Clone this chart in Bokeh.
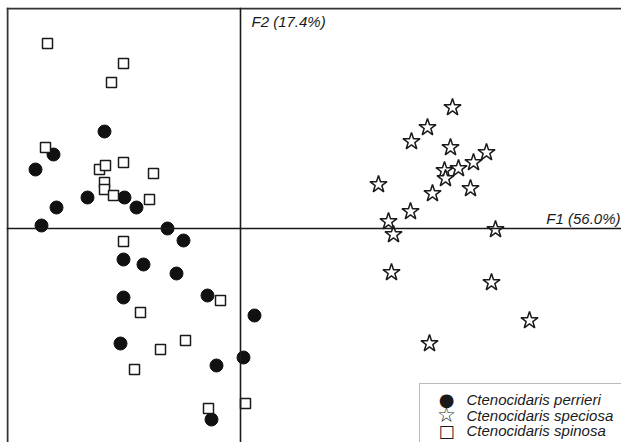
from bokeh.plotting import figure
from bokeh.models import Range1d, Span, Label, BoxAnnotation
from bokeh.embed import file_html
from bokeh.resources import INLINE

# Factor scores (F1 = horizontal, F2 = vertical)
perrieri_f1 = [-1.36, -1.87, -2.05, -1.53, -1.16, -1.04, -1.84, -1.99, -0.73, -0.57,
               -1.17, -0.97, -0.64, -1.17, -0.33, 0.14, -1.20, 0.03, -0.24, -0.29]
perrieri_f2 = [0.97, 0.74, 0.59, 0.31, 0.31, 0.21, 0.21, 0.03, 0.00, -0.12,
               -0.31, -0.36, -0.45, -0.69, -0.67, -0.87, -1.15, -1.29, -1.37, -1.91]

speciosa_f1 = [2.12, 1.87, 1.71, 2.10, 2.46, 2.33, 2.18, 2.04, 2.05, 2.30,
               1.38, 1.92, 1.70, 1.48, 1.53, 2.55, 1.51, 2.51, 2.89, 1.89]
speciosa_f2 = [1.21, 1.01, 0.87, 0.81, 0.76, 0.66, 0.60, 0.58, 0.50, 0.40,
               0.44, 0.35, 0.17, 0.07, -0.06, -0.01, -0.44, -0.54, -0.92, -1.15]

spinosa_f1 = [-1.93, -1.17, -1.29, -1.95, -1.41, -1.35, -1.17, -0.87, -1.36, -1.36,
              -1.27, -0.91, -1.17, -0.20, -1.00, -0.55, -0.80, -1.06, -0.32, 0.05]
spinosa_f2 = [1.85, 1.65, 1.46, 0.81, 0.59, 0.63, 0.66, 0.55, 0.46, 0.39,
              0.33, 0.29, -0.13, -0.72, -0.84, -1.12, -1.21, -1.41, -1.80, -1.75]

species = ["Ctenocidaris perrieri", "Ctenocidaris speciosa", "Ctenocidaris spinosa"]
legend_keys = ["\u25CF", "\u2606", "\u25A1"]
axis_labels = ["F1 (56.0%)", "F2 (17.4%)"]

PX = 100.0  # pixels per unit on both factors
x_start, x_end = -2.34, 3.81
y_start, y_end = -2.14, 2.21

FONT = "Liberation Sans"
INK = "#1a1a1a"

p = figure(width=621, height=442, output_backend="svg", toolbar_location=None,
           x_range=Range1d(x_start, x_end), y_range=Range1d(y_start, y_end),
           x_axis_type=None, y_axis_type=None,
           min_border_left=6, min_border_top=7, min_border_right=0, min_border_bottom=0,
           background_fill_color="white", border_fill_color="white")
p.grid.visible = False
p.outline_line_color = None

# plot box (left and top edges are the only ones inside the picture)
p.add_layout(Span(location=x_start + 1 / PX, dimension="height",
                  line_color="#333333", line_width=2))
p.add_layout(Span(location=y_end - 1 / PX, dimension="width",
                  line_color="#333333", line_width=2))

# the two factor axes
p.add_layout(Span(location=0, dimension="height", line_color=INK, line_width=1.6))
p.add_layout(Span(location=0, dimension="width", line_color=INK, line_width=1.6))

p.scatter(perrieri_f1, perrieri_f2, marker="circle", size=13,
          fill_color="#111111", line_color="#111111")
p.scatter(speciosa_f1, speciosa_f2, marker="star", size=18,
          fill_color="white", line_color=INK, line_width=1.5)
p.scatter(spinosa_f1, spinosa_f2, marker="square", size=10,
          fill_color="white", line_color=INK, line_width=1.5)

p.add_layout(Label(x=x_end, y=0, text=axis_labels[0], text_align="right",
                   text_baseline="middle", x_offset=-1, y_offset=10,
                   text_font=FONT, text_font_style="italic", text_font_size="15px",
                   text_color=INK))
p.add_layout(Label(x=0, y=y_end, text=axis_labels[1], text_align="left",
                   text_baseline="middle", x_offset=11, y_offset=-14,
                   text_font=FONT, text_font_style="italic", text_font_size="15px",
                   text_color=INK))

# legend box and entries (screen units, relative to the plot box)
p.add_layout(BoxAnnotation(left=413, right=700, top=59, bottom=-30,
                           left_units="screen", right_units="screen",
                           top_units="screen", bottom_units="screen",
                           fill_color="white", fill_alpha=1.0,
                           line_color=INK, line_width=1))
row_y = [43, 27.5, 12]
key_sizes = ["18px", "21px", "17px"]
key_styles = ["normal", "bold", "normal"]
for key, name, ry, ks, kst in zip(legend_keys, species, row_y, key_sizes, key_styles):
    p.add_layout(Label(x=440, y=ry, x_units="screen", y_units="screen", text=key,
                       text_align="center", text_baseline="middle",
                       text_font="DejaVu Sans", text_font_size=ks,
                       text_font_style=kst, text_color=INK))
    p.add_layout(Label(x=460, y=ry, x_units="screen", y_units="screen", text=name,
                       text_align="left", text_baseline="middle",
                       text_font=FONT, text_font_style="italic",
                       text_font_size="15px", text_color=INK))

open("out.html", "w").write(file_html(p, INLINE))
